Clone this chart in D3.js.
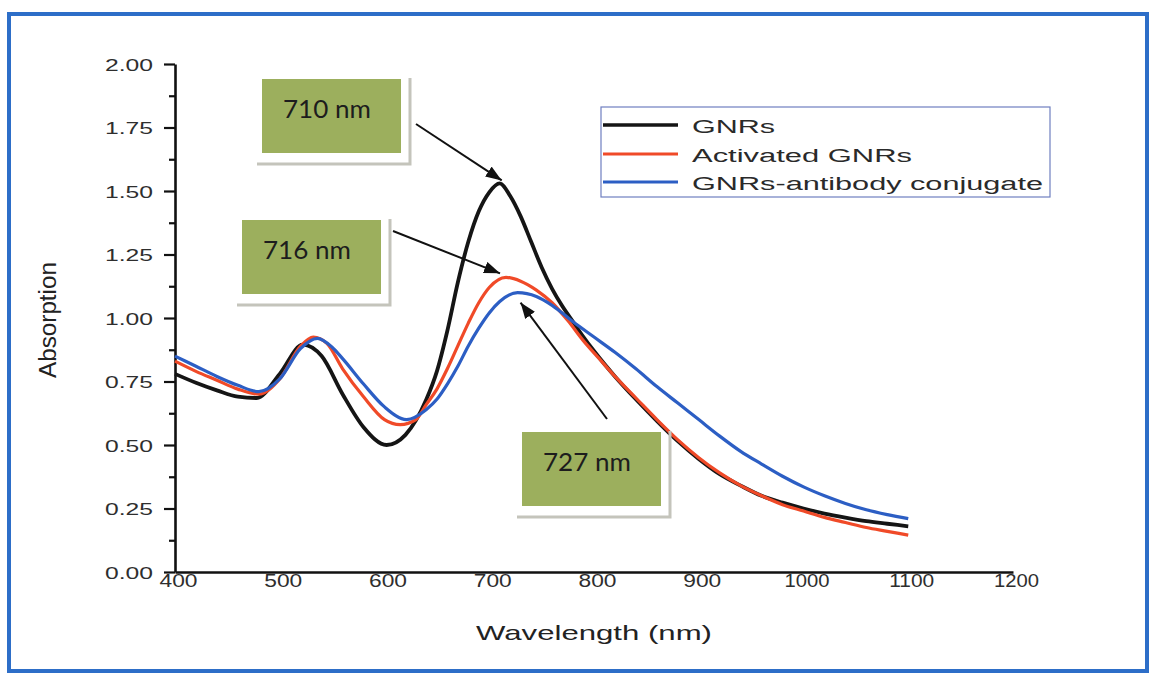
<!DOCTYPE html>
<html>
<head>
<meta charset="utf-8">
<script src="https://cdn.jsdelivr.net/npm/d3@7"></script>
<style>
  html, body { margin: 0; padding: 0; background: #ffffff; }
  svg { display: block; }
</style>
</head>
<body>
<svg id="chart" width="1156" height="676"></svg>
<script>
// UV-Vis-NIR absorption spectra: [wavelength (nm), absorption]
const gnrs = [
  [400, 0.78], [420, 0.745], [440, 0.715], [460, 0.69], [478, 0.685], [500, 0.78],
  [522, 0.895], [540, 0.85], [560, 0.70], [580, 0.57], [602, 0.50], [620, 0.54],
  [640, 0.68], [650, 0.79], [660, 0.95], [670, 1.14], [680, 1.30], [690, 1.42],
  [700, 1.495], [710, 1.53], [720, 1.48], [730, 1.40], [740, 1.30], [750, 1.20],
  [760, 1.115], [770, 1.045], [780, 0.985], [790, 0.925], [800, 0.87], [820, 0.77],
  [840, 0.68], [860, 0.595], [880, 0.515], [900, 0.445], [920, 0.385], [940, 0.34],
  [960, 0.30], [980, 0.273], [1000, 0.25], [1020, 0.23], [1040, 0.214], [1060, 0.20],
  [1080, 0.19], [1100, 0.18]
];
const activatedGnrs = [
  [400, 0.83], [420, 0.79], [440, 0.755], [460, 0.72], [480, 0.70], [500, 0.76],
  [520, 0.89], [532, 0.925], [545, 0.90], [560, 0.80], [580, 0.69], [600, 0.60],
  [615, 0.58], [630, 0.60], [640, 0.66], [650, 0.72], [660, 0.80], [670, 0.89],
  [680, 0.98], [690, 1.06], [700, 1.12], [716, 1.16], [730, 1.145], [745, 1.11],
  [760, 1.06], [775, 0.99], [790, 0.91], [805, 0.84], [820, 0.77], [840, 0.685],
  [860, 0.60], [880, 0.52], [900, 0.45], [920, 0.39], [940, 0.34], [960, 0.30],
  [980, 0.265], [1000, 0.24], [1020, 0.215], [1040, 0.195], [1060, 0.175],
  [1080, 0.16], [1100, 0.145]
];
const antibodyConjugate = [
  [400, 0.85], [420, 0.81], [440, 0.77], [460, 0.735], [480, 0.71], [500, 0.76],
  [520, 0.88], [536, 0.92], [550, 0.885], [560, 0.84], [580, 0.74], [600, 0.65],
  [621, 0.60], [640, 0.64], [650, 0.68], [660, 0.74], [670, 0.81], [680, 0.89],
  [690, 0.96], [700, 1.02], [710, 1.065], [727, 1.10], [745, 1.085], [760, 1.05],
  [780, 0.985], [800, 0.925], [820, 0.865], [840, 0.80], [860, 0.73], [880, 0.665],
  [900, 0.60], [920, 0.535], [940, 0.475], [960, 0.425], [980, 0.377], [1000, 0.335],
  [1020, 0.30], [1040, 0.27], [1060, 0.245], [1080, 0.226], [1100, 0.21]
];

const seriesNames = ["GNRs", "Activated GNRs", "GNRs-antibody conjugate"];
const seriesColors = ["#151515", "#f04a28", "#2c5ec4"];
const xTickValues = [400, 500, 600, 700, 800, 900, 1000, 1100, 1200];
const yTickValues = [0, 0.25, 0.5, 0.75, 1.0, 1.25, 1.5, 1.75, 2.0];
const peakLabels = ["710 nm", "716 nm", "727 nm"];
const peakWavelengths = [710, 716, 727];

const allSeries = [gnrs, activatedGnrs, antibodyConjugate];

const svg = d3.select("#chart");
const W = 1156, H = 676;
const plot = { left: 175, right: 1013, top: 64, bottom: 572 };

const x = d3.scaleLinear().domain([400, 1200]).range([plot.left, plot.right]);
const y = d3.scaleLinear().domain([0, 2]).range([plot.bottom, plot.top]);

svg.append("rect").attr("width", W).attr("height", H).attr("fill", "#ffffff");

// Outer frame
svg.append("rect")
  .attr("x", 9).attr("y", 14).attr("width", 1138).attr("height", 657)
  .attr("fill", "none").attr("stroke", "#2d6ec8").attr("stroke-width", 4);

const font = "'Liberation Sans', Arial, sans-serif";

// Y axis: minor ticks, then major ticks with labels
const yMinor = d3.range(0.125, 2, 0.25);
svg.append("g")
  .attr("transform", `translate(${plot.left},0)`)
  .call(d3.axisLeft(y).tickValues(yMinor).tickSize(6).tickFormat(""))
  .call(g => g.select(".domain").remove())
  .call(g => g.selectAll("line").attr("stroke", "#111").attr("stroke-width", 2.2));

const yAxis = svg.append("g")
  .attr("transform", `translate(${plot.left},0)`)
  .call(d3.axisLeft(y).tickValues(yTickValues).tickSize(11).tickSizeOuter(0)
    .tickPadding(10).tickFormat(d3.format(".2f")));
yAxis.select(".domain").attr("stroke", "#111").attr("stroke-width", 2.6);
yAxis.selectAll(".tick line").attr("stroke", "#111").attr("stroke-width", 2.2);
yAxis.selectAll(".tick text")
  .attr("font-family", font).attr("font-size", 17).attr("fill", "#2e2e2e")
  .attr("x", -22).attr("dy", "0.36em")
  .attr("textLength", 48).attr("lengthAdjust", "spacingAndGlyphs");

// X axis
const xAxis = svg.append("g")
  .attr("transform", `translate(0,${plot.bottom})`)
  .call(d3.axisBottom(x).tickValues(xTickValues).tickSize(0).tickSizeOuter(0)
    .tickPadding(0).tickFormat(d3.format("d")));
xAxis.select(".domain").attr("stroke", "#111").attr("stroke-width", 2.6);
xAxis.selectAll(".tick text")
  .attr("font-family", font).attr("font-size", 18).attr("fill", "#2e2e2e")
  .attr("y", 15).attr("dy", 0).attr("x", 3)
  .attr("textLength", d => String(d).length === 4 ? 45 : 38)
  .attr("lengthAdjust", "spacingAndGlyphs");

// Axis titles
svg.append("text")
  .attr("x", 594).attr("y", 640)
  .attr("text-anchor", "middle")
  .attr("font-family", font).attr("font-size", 21).attr("fill", "#222")
  .attr("textLength", 236).attr("lengthAdjust", "spacingAndGlyphs")
  .text("Wavelength (nm)");

svg.append("text")
  .attr("transform", "translate(56,320) rotate(-90)")
  .attr("text-anchor", "middle")
  .attr("font-family", font).attr("font-size", 23).attr("fill", "#222")
  .attr("textLength", 116).attr("lengthAdjust", "spacingAndGlyphs")
  .text("Absorption");

// Spectra
const line = d3.line()
  .x(d => x(d[0]))
  .y(d => y(d[1]))
  .curve(d3.curveMonotoneX);

const widths = [3.8, 3.2, 3.2];
allSeries.forEach((s, i) => {
  svg.append("path")
    .datum(s)
    .attr("d", line)
    .attr("fill", "none")
    .attr("stroke", seriesColors[i])
    .attr("stroke-width", widths[i])
    .attr("stroke-linejoin", "round");
});

// Legend
const legend = svg.append("g");
legend.append("rect")
  .attr("x", 601).attr("y", 107).attr("width", 449).attr("height", 90)
  .attr("fill", "#ffffff").attr("stroke", "#6f7fc0").attr("stroke-width", 1.2);
const legendRows = [125, 154, 182];
const legendLens = [83, 220, 351];
seriesNames.forEach((name, i) => {
  legend.append("line")
    .attr("x1", 603).attr("x2", 678)
    .attr("y1", legendRows[i]).attr("y2", legendRows[i])
    .attr("stroke", seriesColors[i]).attr("stroke-width", i === 0 ? 3.6 : 3);
  legend.append("text")
    .attr("x", 692).attr("y", legendRows[i] + 7.5)
    .attr("font-family", font).attr("font-size", 18).attr("fill", "#2a2a2a")
    .attr("textLength", legendLens[i]).attr("lengthAdjust", "spacingAndGlyphs")
    .text(name);
});

// Peak callouts
svg.append("defs").append("marker")
  .attr("id", "arrowhead")
  .attr("viewBox", "0 0 16 12")
  .attr("refX", 16).attr("refY", 6)
  .attr("markerWidth", 16).attr("markerHeight", 12)
  .attr("markerUnits", "userSpaceOnUse")
  .attr("orient", "auto")
  .append("path").attr("d", "M0,0 L16,6 L0,12 Z").attr("fill", "#111");

const boxes = [
  { bx: 262, by: 79, sx: 416, sy: 124, tdx: 2, tdy: -3 },
  { bx: 242, by: 220, sx: 393, sy: 231, tdx: -6, tdy: -4 },
  { bx: 522, by: 432, sx: 607, sy: 419, tdx: 3, tdy: 10 }
];
const boxW = 139, boxH = 74;

boxes.forEach((b, i) => {
  const g = svg.append("g");
  // soft grey drop edge
  g.append("path")
    .attr("d", `M${b.bx + boxW + 9},${b.by - 1} L${b.bx + boxW + 9},${b.by + boxH + 11} L${b.bx - 5},${b.by + boxH + 11}`)
    .attr("fill", "none").attr("stroke", "#c4c4bb").attr("stroke-width", 3);
  g.append("rect")
    .attr("x", b.bx).attr("y", b.by).attr("width", boxW).attr("height", boxH)
    .attr("fill", "#9caf5d");
  g.append("text")
    .attr("x", b.bx + 21).attr("y", b.by + 39)
    .attr("font-family", "Lato, 'Open Sans', sans-serif").attr("font-size", 25)
    .attr("fill", "#1d1d1d")
    .attr("textLength", 88).attr("lengthAdjust", "spacingAndGlyphs")
    .text(peakLabels[i]);

  const s = allSeries[i];
  const peak = s.find(d => d[0] === peakWavelengths[i]);
  svg.append("line")
    .attr("x1", b.sx).attr("y1", b.sy)
    .attr("x2", x(peak[0]) + b.tdx).attr("y2", y(peak[1]) + b.tdy)
    .attr("stroke", "#111").attr("stroke-width", 2)
    .attr("marker-end", "url(#arrowhead)");
});
</script>
</body>
</html>
